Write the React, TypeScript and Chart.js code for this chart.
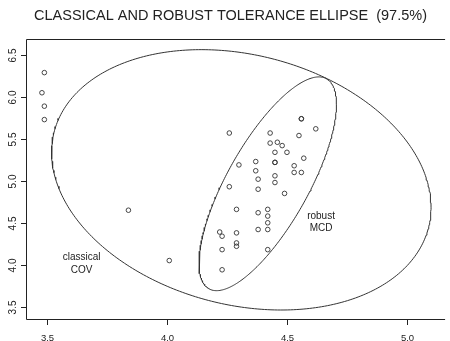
import React, { useEffect, useRef } from "react";
import { Chart, registerables } from "chart.js";

Chart.register(...registerables);

// Star cluster CYG OB1: log surface temperature vs log light intensity
const logTe = [
  4.37, 4.56, 4.26, 4.56, 4.30, 4.46, 3.84, 4.57, 4.26, 4.37, 3.49, 4.43,
  4.48, 4.01, 4.29, 4.42, 4.23, 4.42, 4.23, 3.49, 4.29, 4.29, 4.42, 4.49,
  4.38, 4.42, 4.29, 4.38, 4.22, 3.48, 4.38, 4.56, 4.45, 3.49, 4.23, 4.62,
  4.53, 4.45, 4.53, 4.43, 4.38, 4.45, 4.50, 4.45, 4.55, 4.45, 4.42,
];
const logLight = [
  5.23, 5.74, 4.93, 5.74, 5.19, 5.46, 4.65, 5.27, 5.57, 5.12, 5.73, 5.45,
  5.42, 4.05, 4.26, 4.58, 3.94, 4.18, 4.18, 5.89, 4.38, 4.22, 4.42, 4.85,
  5.02, 4.66, 4.66, 4.90, 4.39, 6.05, 4.42, 5.10, 5.22, 6.29, 4.34, 5.62,
  5.10, 5.22, 5.18, 5.57, 4.62, 5.06, 5.34, 5.34, 5.54, 4.98, 4.50,
];

const xTicks = [3.5, 4.0, 4.5, 5.0];
const yTicks = [3.5, 4.0, 4.5, 5.0, 5.5, 6.0, 6.5];
const xTickLabels = ["3.5", "4.0", "4.5", "5.0"];
const yTickLabels = ["3.5", "4.0", "4.5", "5.0", "5.5", "6.0", "6.5"];

const titleText = "CLASSICAL AND ROBUST TOLERANCE ELLIPSE  (97.5%)";

// Robust (MCD) location and scatter
const mcdCenter = [4.42, 4.965];
const mcdScatter = [0.0111, 0.0368, 0.22]; // sxx, sxy, syy
const chiSq975 = 7.3778; // qchisq(0.975, 2)

const labelPositions = [
  { x: 3.645, y: 4.011, lines: ["classical", "COV"] },
  { x: 4.642, y: 4.506, lines: ["robust", "MCD"] },
];

const X_MIN = 3.4115;
const X_MAX = 5.1584;
const Y_MIN = 3.3474;
const Y_MAX = 6.6907;

function ellipsePoints(cx: number, cy: number, sxx: number, sxy: number, syy: number, r2: number, n = 360) {
  const r = Math.sqrt(r2);
  const l11 = Math.sqrt(sxx);
  const l21 = sxy / l11;
  const l22 = Math.sqrt(syy - l21 * l21);
  const pts: { x: number; y: number }[] = [];
  for (let i = 0; i <= n; i++) {
    const t = (2 * Math.PI * i) / n;
    const u = Math.cos(t);
    const v = Math.sin(t);
    pts.push({ x: cx + r * l11 * u, y: cy + r * (l21 * u + l22 * v) });
  }
  return pts;
}

function classicalStats() {
  const n = logTe.length;
  const mx = logTe.reduce((a, b) => a + b, 0) / n;
  const my = logLight.reduce((a, b) => a + b, 0) / n;
  let sxx = 0, sxy = 0, syy = 0;
  for (let i = 0; i < n; i++) {
    const dx = logTe[i] - mx;
    const dy = logLight[i] - my;
    sxx += dx * dx;
    sxy += dx * dy;
    syy += dy * dy;
  }
  return { mx, my, sxx: sxx / (n - 1), sxy: sxy / (n - 1), syy: syy / (n - 1) };
}

const FONT = '"Liberation Sans", Arial, Helvetica, sans-serif';
const INK = "#222";

const axesPlugin = {
  id: "rAxes",
  afterDraw(chart: any) {
    const ctx = chart.ctx as CanvasRenderingContext2D;
    const { left, top, right, bottom } = chart.chartArea;
    const xs = chart.scales.x;
    const ys = chart.scales.y;
    ctx.save();
    ctx.strokeStyle = INK;
    ctx.lineWidth = 1;
    // box open on the right (bty = "c")
    ctx.beginPath();
    ctx.moveTo(right, Math.round(top) + 0.5);
    ctx.lineTo(Math.round(left) + 0.5, Math.round(top) + 0.5);
    ctx.lineTo(Math.round(left) + 0.5, Math.round(bottom) - 0.5);
    ctx.lineTo(right, Math.round(bottom) - 0.5);
    ctx.stroke();

    // x ticks
    ctx.fillStyle = INK;
    ctx.font = `9.5px ${FONT}`;
    ctx.textAlign = "center";
    ctx.textBaseline = "alphabetic";
    xTicks.forEach((v, i) => {
      const px = Math.round(xs.getPixelForValue(v)) + 0.5;
      ctx.beginPath();
      ctx.moveTo(px, Math.round(bottom) - 0.5);
      ctx.lineTo(px, Math.round(bottom) + 5);
      ctx.stroke();
      ctx.fillText(xTickLabels[i], px, bottom + 21);
    });

    // y ticks (labels rotated, as in R's default las = 0)
    ctx.font = `10px ${FONT}`;
    yTicks.forEach((v, i) => {
      const py = Math.round(ys.getPixelForValue(v)) + 0.5;
      ctx.beginPath();
      ctx.moveTo(Math.round(left) + 0.5, py);
      ctx.lineTo(Math.round(left) - 5, py);
      ctx.stroke();
      ctx.save();
      ctx.translate(15.5, py);
      ctx.rotate(-Math.PI / 2);
      ctx.textAlign = "center";
      ctx.textBaseline = "alphabetic";
      ctx.fillText(yTickLabels[i], 0, 0);
      ctx.restore();
    });

    // title
    ctx.font = `14.5px ${FONT}`;
    ctx.textAlign = "center";
    ctx.textBaseline = "middle";
    ctx.fillText(titleText, 230.5, 15.5);

    // ellipse labels
    ctx.font = `10px ${FONT}`;
    labelPositions.forEach((lab) => {
      const cx = xs.getPixelForValue(lab.x);
      const cy = ys.getPixelForValue(lab.y);
      const lh = 12.4;
      lab.lines.forEach((t, k) => {
        ctx.fillText(t, cx, cy + (k - (lab.lines.length - 1) / 2) * lh);
      });
    });
    ctx.restore();
  },
};

export default function App() {
  const ref = useRef<HTMLCanvasElement | null>(null);
  useEffect(() => {
    if (!ref.current) return;
    const cs = classicalStats();
    const classical = ellipsePoints(cs.mx, cs.my, cs.sxx, cs.sxy, cs.syy, chiSq975);
    const robust = ellipsePoints(mcdCenter[0], mcdCenter[1], mcdScatter[0], mcdScatter[1], mcdScatter[2], chiSq975);
    const points = logTe.map((x, i) => ({ x, y: logLight[i] }));
    const chart = new Chart(ref.current, {
      type: "scatter",
      data: {
        datasets: [
          {
            data: points,
            pointStyle: "circle",
            pointRadius: 2.3,
            pointBorderWidth: 0.9,
            borderColor: "#333",
            backgroundColor: "rgba(0,0,0,0)",
            showLine: false,
          },
          {
            data: classical,
            showLine: true,
            pointRadius: 0,
            borderColor: "#333",
            borderWidth: 1,
            fill: false,
            tension: 0,
          },
          {
            data: robust,
            showLine: true,
            pointRadius: 0,
            borderColor: "#333",
            borderWidth: 1,
            fill: false,
            tension: 0,
          },
        ],
      },
      options: {
        responsive: false,
        animation: false,
        devicePixelRatio: 1,
        layout: { padding: { left: 25.5, top: 39, right: 0, bottom: 21.5 } },
        plugins: { legend: { display: false }, tooltip: { enabled: false }, title: { display: false } },
        scales: {
          x: { type: "linear", min: X_MIN, max: X_MAX, display: false },
          y: { type: "linear", min: Y_MIN, max: Y_MAX, display: false },
        },
        events: [],
      },
      plugins: [axesPlugin],
    });
    return () => chart.destroy();
  }, []);
  return (
    <div style={{ position: "fixed", left: 0, top: 0, width: 450, height: 341, background: "#fff" }}>
      <canvas ref={ref} width={450} height={341} style={{ display: "block" }} />
    </div>
  );
}
